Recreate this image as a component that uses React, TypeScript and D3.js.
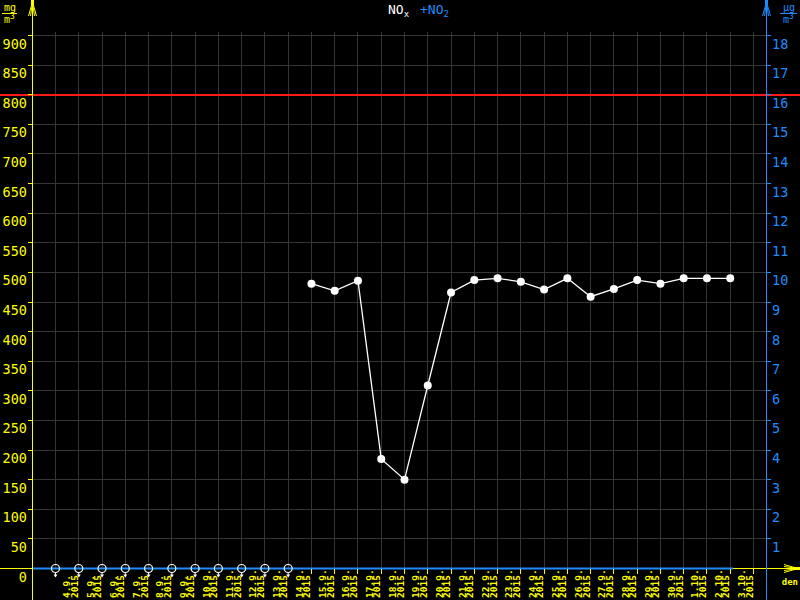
import React from "react";
import * as d3 from "d3";

const tickDates = [
  "2015-09-03","2015-09-04","2015-09-05","2015-09-06","2015-09-07","2015-09-08","2015-09-09","2015-09-10",
  "2015-09-11","2015-09-12","2015-09-13","2015-09-14","2015-09-15","2015-09-16","2015-09-17","2015-09-18",
  "2015-09-19","2015-09-20","2015-09-21","2015-09-22","2015-09-23","2015-09-24","2015-09-25","2015-09-26",
  "2015-09-27","2015-09-28","2015-09-29","2015-09-30","2015-10-01","2015-10-02","2015-10-03",
];
const zeroDates = [
  "2015-09-03","2015-09-04","2015-09-05","2015-09-06","2015-09-07","2015-09-08","2015-09-09","2015-09-10",
  "2015-09-11","2015-09-12","2015-09-13",
];
const noxDates = [
  "2015-09-14","2015-09-15","2015-09-16","2015-09-17","2015-09-18","2015-09-19","2015-09-20","2015-09-21",
  "2015-09-22","2015-09-23","2015-09-24","2015-09-25","2015-09-26","2015-09-27","2015-09-28","2015-09-29",
  "2015-09-30","2015-10-01","2015-10-02",
];
const noxValues = [481, 469, 486, 185, 150, 309, 466, 487, 490, 484, 471, 490, 459, 472, 487, 481, 490, 490, 490];
const leftTicks = [0, 50, 100, 150, 200, 250, 300, 350, 400, 450, 500, 550, 600, 650, 700, 750, 800, 850, 900];
const rightTicks = [1, 2, 3, 4, 5, 6, 7, 8, 9, 10, 11, 12, 13, 14, 15, 16, 17, 18];
const limitValue = 800;

const YEL = "#ffff00";
const BLUE = "#1e8cff";
const GRID = "#353535";
const FONT = "'DejaVu Sans Mono', monospace";

const parse = (s: string) => new Date(s + "T00:00:00Z");

export default function App() {
  const x = d3.scaleUtc().domain([parse("2015-09-03"), parse("2015-10-03")]).range([55.5, 753.5]);
  const yL = d3.scaleLinear().domain([0, 900]).range([568.5, 35.5]);
  const yR = d3.scaleLinear().domain([0, 18]).range([568.5, 35.5]);
  const px = (d: string) => Math.round(x(parse(d)) - 0.5) + 0.5;
  const py = (v: number) => Math.round(yL(v) - 0.5) + 0.5;

  const noxPts = noxDates.map((d, i) => [x(parse(d)), yL(noxValues[i])] as [number, number]);
  const line = d3.line();
  const zeroY = py(0);
  const lastX = x(parse(noxDates[noxDates.length - 1]));

  const fmt = (s: string) => {
    const dt = parse(s);
    return `${dt.getUTCDate()}.${dt.getUTCMonth() + 1}.`;
  };

  return (
    <svg width={800} height={600} style={{ position: "absolute", left: 0, top: 0, background: "#000" }}>
      <rect x={0} y={0} width={800} height={600} fill="#000" />
      {/* grid */}
      {leftTicks.filter((t) => t > 0).map((t) => (
        <line key={"h" + t} x1={32} x2={766} y1={py(t)} y2={py(t)} stroke={GRID} strokeWidth={1} />
      ))}
      {tickDates.map((d) => (
        <line key={"v" + d} x1={px(d)} x2={px(d)} y1={32} y2={568} stroke={GRID} strokeWidth={1} />
      ))}
      {/* limit line */}
      <line x1={0} x2={800} y1={Math.round(yL(limitValue))} y2={Math.round(yL(limitValue))} stroke="#ff1a1a" strokeWidth={2} />

      {/* x axis */}
      <line x1={0} x2={795} y1={zeroY} y2={zeroY} stroke={YEL} strokeWidth={1} />
      <rect x={793} y={zeroY - 1.5} width={7} height={3} fill={YEL} />
      {[-4, -2, 2, 4].map((o) => (
        <line key={"xa" + o} x1={798} y1={zeroY} x2={784} y2={zeroY + o} stroke={YEL} strokeWidth={1} />
      ))}
      <text x={798} y={585} textAnchor="end" fill={YEL} fontFamily={FONT} fontSize={9} fontWeight="bold">den</text>
      <line x1={32} x2={lastX + 3} y1={zeroY} y2={zeroY} stroke={BLUE} strokeWidth={2} />
      {tickDates.filter((d) => !zeroDates.includes(d)).map((d) => (
        <line key={"xt" + d} x1={px(d)} x2={px(d)} y1={569} y2={574} stroke={YEL} strokeWidth={1} />
      ))}
      {tickDates.slice(1).map((d) => {
        const tx = x(parse(d));
        return (
          <text key={"xl" + d} transform={`translate(${tx - 8.5},598) rotate(-90)`} fill={YEL}
            fontFamily={FONT} fontSize={9.5} fontWeight="bold">
            <tspan x={0} y={0}>{fmt(d)}</tspan>
            <tspan x={0} y={7.5}>2015</tspan>
          </text>
        );
      })}

      {/* left axis */}
      <line x1={32.5} x2={32.5} y1={3} y2={600} stroke={YEL} strokeWidth={1} />
      <rect x={31} y={0} width={3} height={6} fill={YEL} />
      {[-4, -2, 2, 4].map((o) => (
        <line key={"la" + o} x1={32.5} y1={2} x2={32.5 + o} y2={16} stroke={YEL} strokeWidth={1} />
      ))}
      {leftTicks.map((t) => (
        <g key={"lt" + t}>
          {t > 0 && <line x1={28} x2={32} y1={py(t)} y2={py(t)} stroke={YEL} strokeWidth={1} />}
          <text x={27} y={yL(t) + 13} textAnchor="end" fill={YEL} fontFamily={FONT} fontSize={13.5}>{t}</text>
        </g>
      ))}
      <text x={10} y={11} textAnchor="middle" fill={YEL} fontFamily={FONT} fontSize={10}>mg</text>
      <line x1={2} x2={17} y1={13.5} y2={13.5} stroke={YEL} strokeWidth={1} />
      <text x={4} y={23} fill={YEL} fontFamily={FONT} fontSize={10}>m<tspan dy={-4} fontSize={8}>3</tspan></text>

      {/* right axis */}
      <line x1={766.5} x2={766.5} y1={3} y2={600} stroke={BLUE} strokeWidth={1} />
      <rect x={765} y={0} width={3} height={6} fill={BLUE} />
      {[-4, -2, 2, 4].map((o) => (
        <line key={"ra" + o} x1={766.5} y1={2} x2={766.5 + o} y2={16} stroke={BLUE} strokeWidth={1} />
      ))}
      {rightTicks.map((t) => (
        <g key={"rt" + t}>
          <line x1={767} x2={771} y1={Math.round(yR(t) - 0.5) + 0.5} y2={Math.round(yR(t) - 0.5) + 0.5} stroke={BLUE} strokeWidth={1} />
          <text x={772} y={yR(t) + 13} fill={BLUE} fontFamily={FONT} fontSize={13.5}>{t}</text>
        </g>
      ))}
      <text x={789} y={11} textAnchor="middle" fill={BLUE} fontFamily={FONT} fontSize={10}>µg</text>
      <line x1={780} x2={797} y1={13.5} y2={13.5} stroke={BLUE} strokeWidth={1} />
      <text x={783} y={23} fill={BLUE} fontFamily={FONT} fontSize={10}>m<tspan dy={-4} fontSize={8}>3</tspan></text>

      {/* title */}
      <text x={388} y={14} fill="#ffffff" fontFamily={FONT} fontSize={13}>NO<tspan dy={3} fontSize={9}>x</tspan></text>
      <text x={420} y={14} fill={BLUE} fontFamily={FONT} fontSize={13}>+NO<tspan dy={3} fontSize={9}>2</tspan></text>

      {/* zero markers */}
      {zeroDates.map((d) => {
        const cx = x(parse(d));
        return (
          <g key={"z" + d}>
            <circle cx={cx} cy={zeroY} r={4} fill="none" stroke="#fff" strokeWidth={1.2} />
            <line x1={cx} x2={cx} y1={zeroY + 4} y2={zeroY + 8} stroke="#fff" strokeWidth={1} />
            <path d={`M${cx - 2},${zeroY + 6} L${cx + 2},${zeroY + 6} L${cx},${zeroY + 9} Z`} fill="#fff" />
          </g>
        );
      })}

      {/* NOx series */}
      <path d={line(noxPts) || ""} fill="none" stroke="#fff" strokeWidth={1.3} />
      {noxPts.map((p, i) => (
        <circle key={"p" + i} cx={p[0]} cy={p[1]} r={4} fill="#fff" />
      ))}
    </svg>
  );
}
